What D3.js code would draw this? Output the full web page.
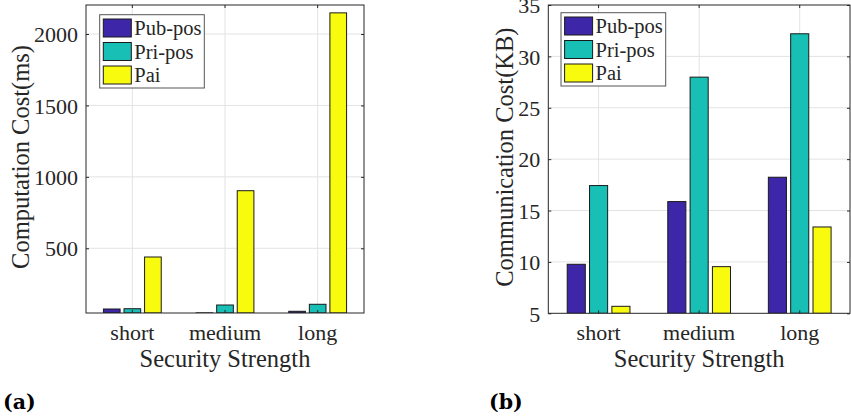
<!doctype html>
<html lang="en">
<head>
<meta charset="utf-8">
<title>Computation and communication cost</title>
<script src="https://cdn.jsdelivr.net/npm/d3@7"></script>
<style>
html, body { margin: 0; padding: 0; background: #fff; }
svg { display: block; }
text { font-family: "Liberation Serif", "Times New Roman", serif; fill: #262626; }
.grid line { stroke: #e3e3e3; stroke-width: 1px; }
.frame { fill: none; stroke: #262626; stroke-width: 1px; }
.tick line { stroke: #262626; }
.bar { stroke: #1a1a1a; stroke-width: 1px; }
.panel-tag { font-family: "DejaVu Serif", serif; font-weight: bold; fill: #000; }
</style>
</head>
<body>
<svg id="chart" width="851" height="417"></svg>
<script>
// data
const categories = ["short", "medium", "long"];
const seriesNames = ["Pub-pos", "Pri-pos", "Pai"];
const seriesColors = ["#3e26a8", "#17bfb4", "#f9fb0e"];

const compPub = [75, 48, 59];
const compPri = [77, 103, 108];
const compPai = [439, 903, 2148];
const compTicks = [500, 1000, 1500, 2000];

const commPub = [9.77, 15.87, 18.24];
const commPri = [17.43, 27.98, 32.2];
const commPai = [5.68, 9.54, 13.4];
const commTicks = [5, 10, 15, 20, 25, 30, 35];

const svg = d3.select("#chart");

function drawPanel(opt) {
  const {left, right, top, bottom, yDomain, ticks, series, ylabel, tag, legend} = opt;
  const g = svg.append("g");

  const x = d3.scaleBand().domain(categories).range([left, right]).padding(0);
  const bw = x.bandwidth();
  const x1 = d3.scaleBand().domain(seriesNames)
    .range([-0.333 * bw, 0.333 * bw]).paddingInner(0.19).paddingOuter(0.095);
  const y = d3.scaleLinear().domain(yDomain).range([bottom, top]);

  // grid
  const grid = g.append("g").attr("class", "grid");
  grid.selectAll("line.v").data(categories).enter().append("line")
    .attr("x1", d => x(d) + bw / 2).attr("x2", d => x(d) + bw / 2)
    .attr("y1", top).attr("y2", bottom);
  grid.selectAll("line.h").data(ticks.filter(t => y(t) > top + 0.5 && y(t) < bottom - 0.5)).enter().append("line")
    .attr("x1", left).attr("x2", right)
    .attr("y1", d => y(d)).attr("y2", d => y(d));

  // bars
  const rows = [];
  categories.forEach((c, i) => {
    series.forEach((s, j) => rows.push({cat: c, name: seriesNames[j], value: s[i], color: seriesColors[j]}));
  });
  const clipId = "clip-" + tag;
  g.append("clipPath").attr("id", clipId).append("rect")
    .attr("x", left).attr("y", top).attr("width", right - left).attr("height", bottom - top);
  g.append("g").attr("clip-path", "url(#" + clipId + ")")
    .selectAll("rect").data(rows).enter().append("rect")
    .attr("class", "bar")
    .attr("x", d => x(d.cat) + bw / 2 + x1(d.name))
    .attr("width", x1.bandwidth())
    .attr("y", d => y(d.value))
    .attr("height", d => Math.max(0, bottom - y(d.value)))
    .attr("fill", d => d.color);

  // axes (inward ticks, mirrored on top/right)
  const tl = 3;
  const yAxisL = d3.axisLeft(y).tickValues(ticks).tickFormat(d3.format("d"))
    .tickSizeInner(-tl).tickSizeOuter(0).tickPadding(8);
  const yAxisR = d3.axisRight(y).tickValues(ticks).tickSizeInner(-tl).tickSizeOuter(0).tickFormat("");
  const xAxisB = d3.axisBottom(x).tickSizeInner(-tl).tickSizeOuter(0).tickPadding(0);
  const xAxisT = d3.axisTop(x).tickSizeInner(-tl).tickSizeOuter(0).tickFormat("");

  const ayl = g.append("g").attr("transform", `translate(${left},0)`).call(yAxisL);
  g.append("g").attr("transform", `translate(${right},0)`).call(yAxisR);
  const axb = g.append("g").attr("transform", `translate(0,${bottom})`).call(xAxisB);
  g.append("g").attr("transform", `translate(0,${top})`).call(xAxisT);
  g.selectAll(".domain").remove();
  g.selectAll("g").attr("font-family", null).attr("font-size", null);

  ayl.selectAll("text").attr("font-size", 22)
    .attr("dy", "0.35em").attr("fill", "#262626");
  axb.selectAll("text").attr("font-size", 22)
    .attr("dy", null).attr("y", 340 - bottom).attr("fill", "#262626");

  g.append("rect").attr("class", "frame")
    .attr("x", left).attr("y", top).attr("width", right - left).attr("height", bottom - top);

  // labels
  g.append("text").attr("text-anchor", "middle").attr("font-size", 24.5)
    .attr("x", (left + right) / 2).attr("y", 366.5).text("Security Strength");
  g.append("text").attr("text-anchor", "middle").attr("font-size", 24.5)
    .attr("transform", `translate(${opt.ylabelX},${(top + bottom) / 2 - 2}) rotate(-90)`)
    .text(ylabel);

  // legend
  const lg = g.append("g").attr("transform", `translate(${legend.x},${legend.y})`);
  lg.append("rect").attr("width", legend.w).attr("height", legend.h)
    .attr("fill", "#fff").attr("stroke", "#555").attr("stroke-width", 1);
  seriesNames.forEach((n, j) => {
    const cy = 13.3 + j * 23.5;
    lg.append("rect").attr("x", 3.6).attr("y", cy - 9).attr("width", 28).attr("height", 18)
      .attr("fill", seriesColors[j]).attr("stroke", "#1a1a1a");
    lg.append("text").attr("x", 34.6).attr("y", cy).attr("dy", "0.35em")
      .attr("font-size", 20.5).attr("fill", "#000").text(n);
  });

  svg.append("text").attr("class", "panel-tag").attr("font-size", 20.5)
    .attr("x", opt.tagX).attr("y", 409).text("(" + tag + ")");
}

drawPanel({
  left: 86, right: 364, top: 5, bottom: 313,
  yDomain: [47, 2203], ticks: compTicks,
  series: [compPub, compPri, compPai],
  ylabel: "Computation Cost(ms)", ylabelX: 28.5,
  legend: {x: 99.7, y: 14.7, w: 104.6, h: 73.3},
  tag: "a", tagX: 3
});

drawPanel({
  left: 548.3, right: 850, top: 5, bottom: 313.3,
  yDomain: [5, 35], ticks: commTicks,
  series: [commPub, commPri, commPai],
  ylabel: "Communication Cost(KB)", ylabelX: 512.7,
  legend: {x: 561, y: 12.7, w: 104.7, h: 73.3},
  tag: "b", tagX: 489
});
</script>
</body>
</html>
